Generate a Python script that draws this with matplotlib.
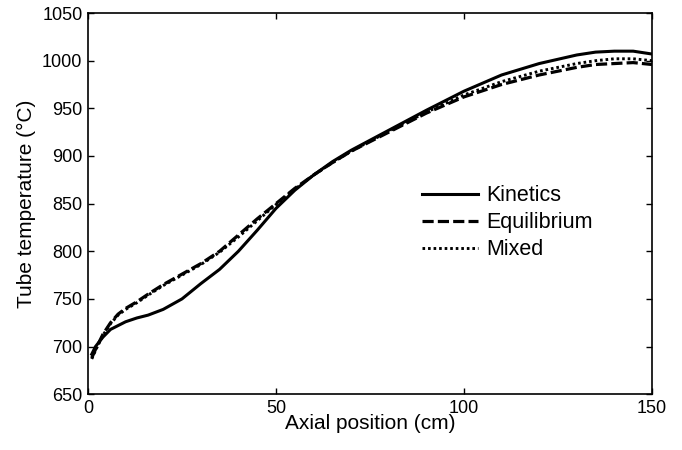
import numpy as np
import matplotlib.pyplot as plt

plt.rcParams['font.family'] = ['Liberation Sans', 'DejaVu Sans']

# axial positions (cm) where the profiles were sampled
position = [1, 2, 4, 6, 8, 10, 13, 16, 20, 25, 30, 35, 40, 45, 50, 55,
            60, 65, 70, 80, 90, 100, 110, 120, 130, 135, 140, 145, 150]

# tube wall temperature (degC) for each model
t_kinetics = [692, 700, 710, 718, 722, 726, 730, 733, 739, 750, 766, 781,
              800, 822, 845, 864, 880, 894, 906, 927, 948, 968, 985, 997,
              1006, 1009, 1010, 1010, 1007]
t_equilibrium = [688, 697, 713, 725, 734, 740, 747, 755, 765, 776, 787, 800,
                 817, 834, 850, 866, 880, 893, 905, 925, 945, 962, 975, 985,
                 993, 996, 997, 998, 996]
t_mixed = [687, 696, 712, 724, 733, 739, 746, 754, 764, 775, 786, 799,
           815, 832, 849, 865, 880, 893, 905, 926, 946, 964, 978, 989,
           997, 1000, 1002, 1002, 1000]

fig = plt.figure(figsize=(6.82, 4.5), dpi=100)
ax = fig.add_axes([0.129, 0.124, 0.827, 0.847])

ax.plot(position, t_kinetics, color="black", lw=2.2, label="Kinetics")
ax.plot(position, t_equilibrium, color="black", lw=2.3, dashes=(3.5, 1.3),
        label="Equilibrium")
ax.plot(position, t_mixed, color="black", lw=2.1, dashes=(0.9, 1.0),
        label="Mixed")

ax.set_xlim(0, 150)
ax.set_ylim(650, 1050)
ax.set_xticks([0, 50, 100, 150])
ax.set_yticks(np.arange(650, 1051, 50))
ax.tick_params(direction="in", top=True, right=True, length=4, width=1,
               labelsize=13, pad=4)
for sp in ax.spines.values():
    sp.set_linewidth(1.2)

ax.set_xlabel("Axial position (cm)", fontsize=15, labelpad=-2)
ax.set_ylabel("Tube temperature (°C)", fontsize=15, labelpad=4)

ax.legend(loc="upper left", bbox_to_anchor=(0.592, 0.548), frameon=False,
          fontsize=15.5, handlelength=2.6, handletextpad=0.4,
          labelspacing=0.28, borderpad=0, borderaxespad=0)

fig.savefig("out.png", dpi=100)
